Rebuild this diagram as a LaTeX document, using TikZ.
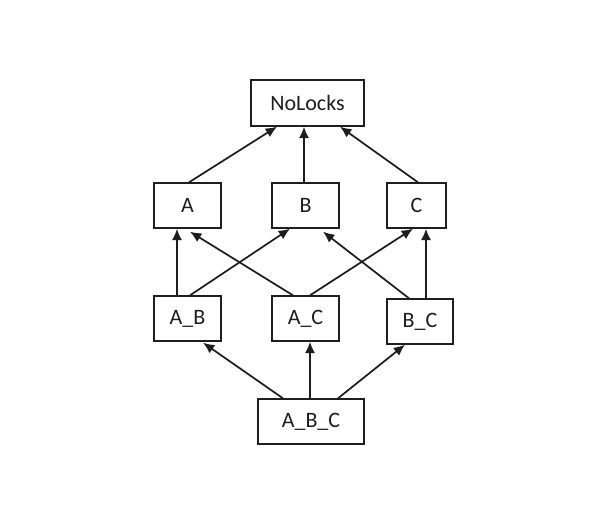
\documentclass[tikz,border=0pt]{standalone}
\usepackage{fontspec}
\setmainfont{Carlito}
\usepackage{tikz}
\usetikzlibrary{arrows.meta}
\usetikzlibrary{calc}
\tikzset{>={Latex[width=7.5pt,length=8.5pt]}}
\definecolor{darkgray}{HTML}{1E1E1E}
\tikzset{lockbox/.style={draw=darkgray, line width=1pt, fill=white,
    inner sep=0pt, text=darkgray, font=\fontsize{16.5}{19}\selectfont}}

\begin{document}
\begin{tikzpicture}[x=0.75pt, y=-0.75pt]

  \useasboundingbox (0,0) rectangle (600,518); %% positioning

  \newcommand\BoxW{67};
  \newcommand\BoxH{45};

  \node[lockbox, minimum width=113*0.75pt, minimum height=46*0.75pt]
  (nolocks) at (307.5,103) {NoLocks};

  \node[lockbox, minimum width=\BoxW*0.75pt, minimum height=\BoxH*0.75pt]
  (a) at (187.5,205.5) {A};
  \node[lockbox, minimum width=\BoxW*0.75pt, minimum height=\BoxH*0.75pt]
  (b) at (305.5,205.5) {B};
  \node[lockbox, minimum width=59*0.75pt, minimum height=\BoxH*0.75pt]
  (c) at (416.5,205.5) {C};

  \node[lockbox, minimum width=\BoxW*0.75pt, minimum height=\BoxH*0.75pt]
  (ab) at (187.5,318.5) {A\_B};
  \node[lockbox, minimum width=\BoxW*0.75pt, minimum height=\BoxH*0.75pt]
  (ac) at (305.5,318.5) {A\_C};
  \node[lockbox, minimum width=66*0.75pt, minimum height=\BoxH*0.75pt]
  (bc) at (420,321.5) {B\_C};

  \node[lockbox, minimum width=106*0.75pt, minimum height=\BoxH*0.75pt]
  (abc) at (311,421.5) {A\_B\_C};

  \begin{scope}[draw=darkgray, line width=1.3pt]
  %% first level
  \draw[->] ($(a.north)+(1.5,0)$) -- ($(nolocks.south)+(-30.5,0)$);
  \draw[->] ($(b.north)+(-1.5,0)$) -- ($(nolocks.south)+(-3.5,0)$);
  \draw[->] ($(c.north)+(1.5,0)$) -- ($(nolocks.south)+(32.5,0)$);

  %% second level
  \draw[->] ($(ab.north)+(-10.5,0)$) -- ($(a.south)+(-10.5,0)$);
  \draw[->] ($(ab.north)+(2.5,0)$) -- ($(b.south)+(-15.5,0)$);
  \draw[->] ($(ac.north)+(-12.5,0)$) -- ($(a.south)+(2.5,3)$);
  \draw[->] ($(ac.north)+(4.5,0)$) -- ($(c.south)+(-3.5,0)$);
  \draw[->] ($(bc.north)+(-11,0)$) -- ($(b.south)+(17.5,3)$);
  \draw[->] ($(bc.north)+(6,0)$) -- ($(c.south)+(9.5,0)$);

  %% third level
  \draw[->] ($(abc.north)+(-28,0)$) -- ($(ab.south)+(15.5,1)$);
  \draw[->] ($(abc.north)+(-1,0)$) -- ($(ac.south)+(4.5,0)$);
  \draw[->] ($(abc.north)+(27,0)$) -- ($(bc.south)+(-15,0)$);
  \end{scope}

\end{tikzpicture}
\end{document}
